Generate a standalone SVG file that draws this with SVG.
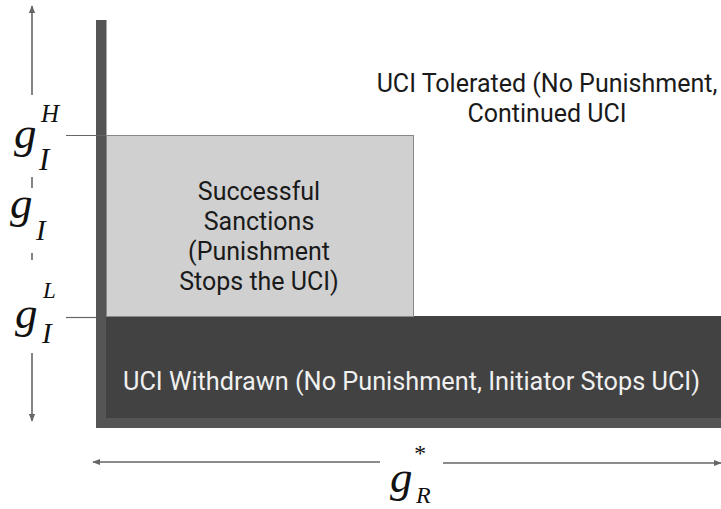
<svg xmlns="http://www.w3.org/2000/svg" width="721" height="509" viewBox="0 0 721 509">
<defs>
<style>
.lbl{font-family:Roboto,"Liberation Sans",sans-serif;fill:#1a1a1a;text-anchor:middle}
.math{font-family:"Liberation Serif","DejaVu Serif",serif;font-style:italic;fill:#111}
.ax{stroke:#666;stroke-width:1.6;fill:none}
.tick{stroke:#666;stroke-width:1.2}
</style>
<marker id="ah" viewBox="0 0 10 10" refX="9" refY="5" markerWidth="8" markerHeight="8" orient="auto-start-reverse" markerUnits="userSpaceOnUse">
<path d="M0,1 L10,5 L0,9 Z" fill="#666"/>
</marker>
</defs>
<rect width="721" height="509" fill="#fff"/>
<g id="axes-frame">
<rect x="96" y="20" width="10.5" height="408" fill="#555"/>
<rect x="96" y="418" width="625" height="10" fill="#555"/>
</g>
<g id="node-withdrawn">
<rect x="106" y="316" width="615" height="102" fill="#424242"/>
<text x="411.5" y="390" font-family="Roboto,'Liberation Sans',sans-serif" font-size="25" fill="#f0f0f0" text-anchor="middle" textLength="577" lengthAdjust="spacingAndGlyphs">UCI Withdrawn (No Punishment, Initiator Stops UCI)</text>
</g>
<g id="node-sanctions">
<rect x="106.5" y="135.5" width="307" height="181" fill="#d0d0d0" stroke="#888" stroke-width="1"/>
<text class="lbl" font-size="25"><tspan x="259" y="200">Successful</tspan><tspan x="259" y="230">Sanctions</tspan><tspan x="259" y="260">(Punishment</tspan><tspan x="259" y="290">Stops the UCI)</tspan></text>
</g>
<g id="node-tolerated">
<text class="lbl" font-size="25"><tspan x="547" y="92">UCI Tolerated (No Punishment,</tspan><tspan x="547" y="122">Continued UCI</tspan></text>
</g>
<g id="connectors">
<line class="tick" x1="66" y1="135.5" x2="106" y2="135.5"/>
<line class="tick" x1="66" y1="317.5" x2="96" y2="317.5"/>
<line class="ax" x1="32" y1="95" x2="32" y2="6" marker-end="url(#ah)"/>
<line class="ax" x1="32" y1="177" x2="32" y2="188"/>
<line class="ax" x1="32" y1="253" x2="32" y2="260"/>
<line class="ax" x1="32" y1="353" x2="32" y2="421" marker-end="url(#ah)"/>
<line class="ax" x1="380" y1="462" x2="93" y2="462" marker-end="url(#ah)"/>
<line class="ax" x1="443" y1="463" x2="721" y2="463" marker-end="url(#ah)"/>
</g>
<g id="labels">
<text class="math" font-size="45" x="14" y="148">g</text>
<text class="math" font-size="31" x="39" y="170">I</text>
<text class="math" font-size="25" x="41" y="122">H</text>
<text class="math" font-size="45" x="10" y="218">g</text>
<text class="math" font-size="29" x="36" y="240">I</text>
<text class="math" font-size="45" x="15" y="328">g</text>
<text class="math" font-size="29" x="42" y="343">I</text>
<text class="math" font-size="23" x="43" y="298">L</text>
<text class="math" font-size="45" x="390" y="492">g</text>
<text class="math" font-size="24" x="416" y="503">R</text>
<text class="math" font-size="24" x="413" y="461" font-style="normal">*</text>
</g>
</svg>
